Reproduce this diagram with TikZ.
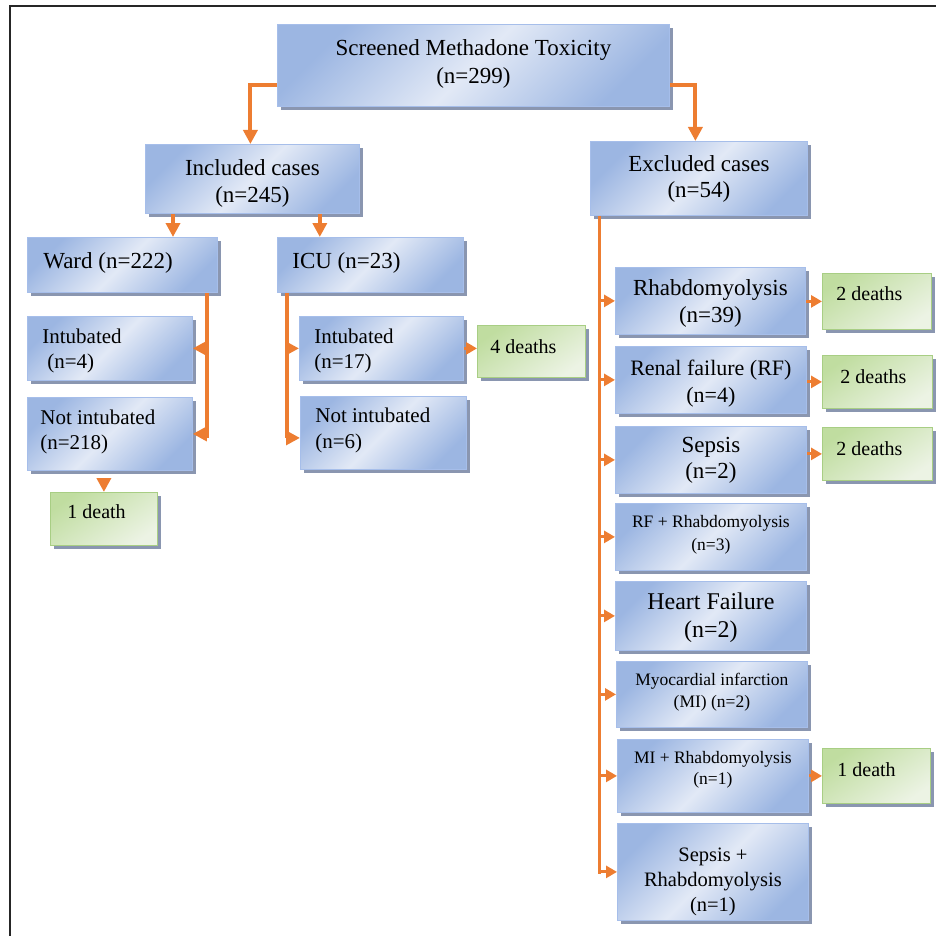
\documentclass[tikz,border=0pt]{standalone}
\usepackage{fontspec}
\setmainfont{Liberation Serif}
\usetikzlibrary{arrows.meta,shadows}
\definecolor{bdark}{RGB}{156,182,226}
\definecolor{blight}{RGB}{226,233,246}
\definecolor{bedge}{RGB}{166,190,234}
\definecolor{gdark}{RGB}{192,221,160}
\definecolor{glight}{RGB}{236,243,228}
\definecolor{gedge}{RGB}{168,206,132}
\definecolor{shadc}{RGB}{138,150,176}
\definecolor{orng}{RGB}{237,125,49}
\newcommand\bxc[4]{\parbox[c][#2pt][t]{#1pt}{\centering\vspace*{\dimexpr#3pt-0.7\baselineskip\relax}\strut#4\par}}
\newcommand\bxl[5]{\parbox[c][#2pt][t]{#1pt}{\raggedright\leftskip=#4pt\relax\vspace*{\dimexpr#3pt-0.7\baselineskip\relax}\strut#5\par}}
\tikzset{
  bb/.style={draw=bedge, line width=0.8pt, top color=bdark, bottom color=bdark, middle color=blight, shading angle=45,
    inner sep=0pt, anchor=north west, drop shadow={shadow xshift=3.5pt, shadow yshift=-3.5pt, fill=shadc, opacity=1}},
  gb/.style={draw=gedge, line width=0.8pt, top color=gdark, bottom color=glight, shading angle=35,
    inner sep=0pt, anchor=north west, drop shadow={shadow xshift=3.5pt, shadow yshift=-3.5pt, fill=shadc, opacity=1}},
  conn/.style={draw=orng, line width=3.5pt, -{Triangle[width=14pt,length=14pt]}},
  bigconn/.style={draw=orng, line width=4pt, -{Triangle[width=14pt,length=14pt]}},
  conn2/.style={draw=orng, line width=3pt, -{Triangle[width=12pt,length=11pt]}},
  trunk/.style={draw=orng, line width=3.5pt},
  fA/.style={font=\fontsize{23}{27}\selectfont},
  fB/.style={font=\fontsize{21}{25}\selectfont},
  fD/.style={font=\fontsize{20}{24}\selectfont},
  fS/.style={font=\fontsize{17.5}{22}\selectfont},
}
\begin{document}
\begin{tikzpicture}[x=1pt,y=-1pt]
\useasboundingbox (0,0) rectangle (936,936);
\draw[line width=2pt, black!85] (10,936) -- (10,6) -- (936,6);
% top level
\node[bb, font=\fontsize{23}{28}\selectfont] (top) at (277,24) {\bxc{392}{82}{31}{Screened Methadone Toxicity\\(n=299)}};
\node[bb, fA] (inc) at (145,144) {\bxc{214}{69}{31}{Included cases\\(n=245)}};
\node[bb, font=\fontsize{23}{26}\selectfont] (exc) at (590,141) {\bxc{217}{74}{30}{Excluded cases\\(n=54)}};
% included branch
\node[bb, fA] (ward) at (27,237) {\bxl{190}{55}{31}{16}{Ward (n=222)}};
\node[bb, fA] (icu) at (277,237) {\bxl{186}{55}{31}{15}{ICU (n=23)}};
\node[bb, fB] (wint) at (27,316) {\bxl{165}{64}{27}{15}{Intubated\\\hspace*{5pt}(n=4)}};
\node[bb, fB] (wnot) at (27,397) {\bxl{165}{73}{27}{13}{Not intubated\\(n=218)}};
\node[gb, fD] (d1) at (50,492) {\bxl{107}{53}{26}{17}{1 death}};
\node[bb, fB] (iint) at (299,316) {\bxl{164}{64}{27}{15}{Intubated\\(n=17)}};
\node[gb, fD] (d4) at (477,325) {\bxl{108}{52}{28}{13}{4 deaths}};
\node[bb, font=\fontsize{21}{26}\selectfont] (inot) at (300,396) {\bxl{166}{73}{26}{15}{Not intubated\\(n=6)}};
% excluded branch
\node[bb, fA] (rh) at (615,267) {\bxc{190}{67}{28}{Rhabdomyolysis\\(n=39)}};
\node[gb, fD] (d2a) at (822,273) {\bxl{109}{56}{27}{14}{2 deaths}};
\node[bb, font=\fontsize{22}{27}\selectfont] (ren) at (615,346) {\bxc{191}{67}{29}{Renal failure (RF)\\(n=4)}};
\node[gb, fD] (d2b) at (822,355) {\bxl{110}{53}{28}{18}{2 deaths}};
\node[bb, font=\fontsize{23}{26}\selectfont] (sep) at (615,426) {\bxc{191}{67}{26}{Sepsis\\(n=2)}};
\node[gb, fD] (d2c) at (822,427) {\bxl{110}{53}{28}{14}{2 deaths}};
\node[bb, font=\fontsize{17.5}{23}\selectfont] (rfr) at (615,503) {\bxc{191}{67}{24}{RF + Rhabdomyolysis\\(n=3)}};
\node[bb, font=\fontsize{24}{28}\selectfont] (hf) at (615,581) {\bxc{191}{69}{28}{Heart Failure\\(n=2)}};
\node[bb, fS] (mi) at (616,661) {\bxc{191}{66}{24}{Myocardial infarction\\(MI) (n=2)}};
\node[bb, font=\fontsize{17.5}{21}\selectfont] (mir) at (617,739) {\bxc{191}{73}{24}{MI + Rhabdomyolysis\\(n=1)}};
\node[gb, fD] (d1b) at (822,748) {\bxl{108}{55}{28}{15}{1 death}};
\node[bb, font=\fontsize{20.5}{25}\selectfont] (sr) at (617,823) {\bxc{191}{97}{38}{Sepsis +\\Rhabdomyolysis\\(n=1)}};
% connectors: top level
\draw[bigconn] ([yshift=-20pt]top.west) -| ([xshift=-2pt]inc.north);
\draw[bigconn] ([yshift=-20pt]top.east) -| ([xshift=-3.5pt]exc.north);
\draw[conn] ([xshift=28pt]inc.south west) coordinate (i1) -- (i1 |- ward.north);
\draw[conn] ([xshift=-40pt]inc.south east) coordinate (i2) -- (i2 |- icu.north);
% ward
\draw[trunk] ([xshift=-11pt]ward.south east) coordinate (wt) -- (wt |- wnot.east) -- ++(0,4);
\draw[conn] (wt |- wint.east) -- (wint.east);
\draw[conn] (wt |- wnot.east) -- (wnot.east);
\coordinate (wd) at ([yshift=-8pt]wnot.south);
\draw[conn] (wd -| d1.north) -- (d1.north);
% icu
\draw[trunk] ([xshift=10pt]icu.south west) coordinate (it) -- (it |- inot.west) -- ++(0,5);
\draw[conn] (it |- iint.west) -- (iint.west);
\coordinate (ia) at ([yshift=-5pt]inot.west);
\draw[conn] (it |- ia) -- (ia);
\draw[conn2] (iint.east) -- (iint.east -| d4.west);
% excluded
\draw[line width=3pt, draw=orng] ([xshift=9pt]exc.south west) coordinate (et) -- (et |- sr.west) -- ++(0,2);
\foreach \n in {rh,ren,sep,rfr,hf,mi,mir,sr}
  \draw[conn2] (et |- \n.west) -- (\n.west);
\draw[conn2] (d2a.west -| rh.east) -- (d2a.west);
\draw[conn2] (d2b.west -| ren.east) -- (d2b.west);
\draw[conn2] (d2c.west -| sep.east) -- (d2c.west);
\draw[conn2] (d1b.west -| mir.east) -- (d1b.west);
\end{tikzpicture}
\end{document}
